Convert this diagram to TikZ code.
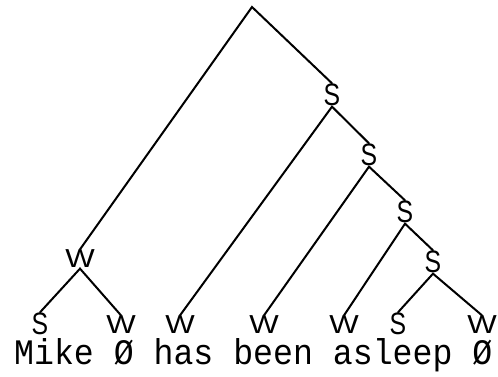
\documentclass[tikz,border=0pt]{standalone}
\usepackage{fontspec}
\newfontfamily\labfont{Liberation Sans}
\newfontfamily\wordfont{Liberation Mono}
\newcommand{\labW}{\scalebox{1.2}[1]{W}}
\newcommand{\labS}{\scalebox{0.8}[1]{S}}
\tikzset{
  lab/.style={font=\labfont\fontsize{26}{26}\selectfont, inner sep=0.5pt},
  labs/.style={font=\labfont\fontsize{31}{31}\selectfont, inner sep=0.5pt},
  branch/.style={line width=2pt, line cap=round},
}
\begin{document}
\begin{tikzpicture}[x=1pt,y=-1pt]
\useasboundingbox (0,0) rectangle (498,377);
\coordinate (root) at (252,7);
\node[lab] (W1) at (80,259) {\labW};
\node[labs] (S1) at (332,95) {\labS};
\node[labs] (S2) at (369,155) {\labS};
\node[labs] (S3) at (405,212) {\labS};
\node[labs] (S4) at (433,262) {\labS};
\node[labs] (l1) at (40,324) {\labS};
\node[lab] (l2) at (121,325) {\labW};
\node[lab] (l3) at (180,325) {\labW};
\node[lab] (l4) at (264,325) {\labW};
\node[lab] (l5) at (344,325) {\labW};
\node[labs] (l6) at (398,324) {\labS};
\node[lab] (l7) at (482,325) {\labW};
\node[font=\wordfont\fontsize{33.2}{34}\selectfont, inner sep=0pt, text height=23pt, anchor=base west] (words) at (14,364) {\scalebox{1}[1.08]{Mike Ø has been asleep Ø}};
\draw[branch] (W1.north) -- (root) -- (S1.north);
\draw[branch] (l3.north) -- (S1.south) -- (S2.north);
\draw[branch] (l4.north) -- (S2.south) -- (S3.north);
\draw[branch] (l5.north) -- (S3.south) -- (S4.north);
\draw[branch] (l6.north) -- (S4.south) -- (l7.north);
\draw[branch] (l1.north) -- (W1.south) -- (l2.north);
\end{tikzpicture}
\end{document}
